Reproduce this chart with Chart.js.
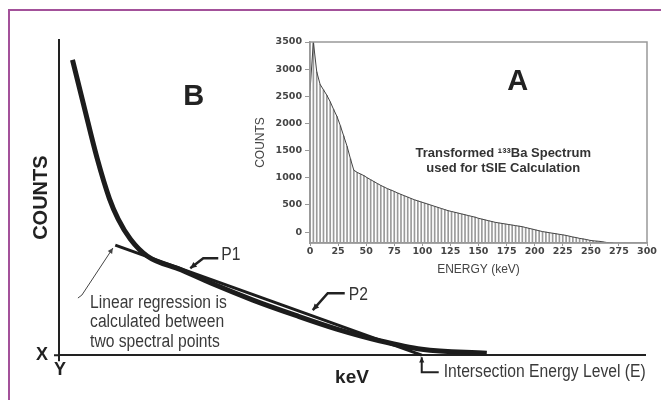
<!DOCTYPE html>
<html>
<head>
<meta charset="utf-8">
<script src="https://cdn.jsdelivr.net/npm/chart.js@4.4.1/dist/chart.umd.min.js"></script>
<style>
body { margin: 0; background: #fff; }
#wrap { position: relative; width: 661px; height: 400px; overflow: hidden; background: #fff; }
#frame { position: absolute; left: 8px; top: 9px; width: 700px; height: 500px;
	border-top: 2px solid #a3519a; border-left: 2px solid #a3519a; }
canvas { position: absolute; left: 0; top: 0; }
</style>
</head>
<body>
<div id="wrap">
	<div id="frame"></div>
	<canvas id="sketch" width="661" height="400"></canvas>
	<canvas id="inset" width="661" height="400"></canvas>
</div>
<script>
// panel B: schematic spectrum (arbitrary units, 0-100 on both axes)
let curveKeV = [2.3, 4.3, 6.5, 8.6, 10.1, 12.2, 15.1, 20.8, 25.9, 33.1, 40.3, 47.4, 54.7, 61.9, 73.0];
let curveCounts = [93.7, 78.7, 62.5, 49.7, 43.2, 36.8, 31.4, 27.1, 22.9, 17.5, 12.7, 8.3, 4.6, 1.9, 0.6];
let regressionKeV = [9.6, 61.9];
let regressionCounts = [34.9, 0];

// panel A: transformed 133Ba spectrum
let energyKeV = [
	0, 3, 6, 9, 12, 15, 18, 21, 24, 27, 30, 33, 36, 39, 42, 45, 48, 51, 54, 57,
	60, 63, 66, 69, 72, 75, 78, 81, 84, 87, 90, 93, 96, 99, 102, 105, 108, 111, 114, 117,
	120, 123, 126, 129, 132, 135, 138, 141, 144, 147, 150, 153, 156, 159, 162, 165, 168, 171, 174, 177,
	180, 183, 186, 189, 192, 195, 198, 201, 204, 207, 210, 213, 216, 219, 222, 225, 228, 231, 234, 237,
	240, 243, 246, 249, 252, 255, 258, 261, 264, 267, 270
];
let spectrumCounts = [
	2600, 3500, 2950, 2720, 2620, 2520, 2400, 2260, 2130, 1960, 1770, 1580, 1350, 1140, 1100, 1070, 1040, 1000, 965, 930,
	895, 860, 830, 800, 775, 750, 720, 695, 670, 645, 620, 595, 575, 555, 535, 515, 495, 475, 455, 435,
	415, 395, 380, 365, 350, 335, 320, 305, 290, 275, 255, 240, 225, 210, 195, 180, 170, 160, 150, 140,
	130, 120, 110, 100, 85, 70, 55, 40, 25, 10, 0, -10, -20, -30, -40, -50, -60, -75, -90, -100,
	-115, -125, -135, -150, -160, -165, -170, -180, -190, -195, -200
];
let countTicks = [0, 500, 1000, 1500, 2000, 2500, 3000, 3500];

Chart.defaults.font.family = "'Liberation Sans', Arial, sans-serif";
Chart.defaults.animation = false;
Chart.defaults.plugins.legend.display = false;
Chart.defaults.plugins.tooltip.enabled = false;

function arrow(ctx, pts, head) {
	ctx.beginPath();
	ctx.moveTo(pts[0][0], pts[0][1]);
	for (let i = 1; i < pts.length; i++) {
		ctx.lineTo(pts[i][0], pts[i][1]);
	}
	ctx.stroke();
	let a = Math.atan2(pts[0][1] - pts[1][1], pts[0][0] - pts[1][0]);
	ctx.beginPath();
	ctx.moveTo(pts[0][0], pts[0][1]);
	ctx.lineTo(pts[0][0] - head * Math.cos(a - 0.45), pts[0][1] - head * Math.sin(a - 0.45));
	ctx.lineTo(pts[0][0] - head * Math.cos(a + 0.45), pts[0][1] - head * Math.sin(a + 0.45));
	ctx.closePath();
	ctx.fill();
}

function rel(x0, y0, offs) {
	return offs.map(o => [x0 + o[0], y0 + o[1]]);
}

// the labels in the figure use a condensed face; squeeze a normal one
function narrowText(ctx, text, x, y) {
	ctx.save();
	ctx.translate(x, y);
	ctx.scale(0.87, 1);
	ctx.fillText(text, 0, 0);
	ctx.restore();
}

const sketchNotes = {
	id: 'sketchNotes',
	afterDraw(chart) {
		let {ctx, scales: {x, y}} = chart;
		let ox = x.getPixelForValue(0), oy = y.getPixelForValue(0);
		ctx.save();
		ctx.strokeStyle = '#222';
		ctx.fillStyle = '#222';

		// axis cross at the origin
		ctx.lineWidth = 2;
		ctx.beginPath();
		ctx.moveTo(ox, oy); ctx.lineTo(ox, oy + 6);
		ctx.moveTo(ox - 5, oy); ctx.lineTo(ox, oy);
		ctx.stroke();
		ctx.font = 'bold 18px "Liberation Sans", Arial';
		ctx.textAlign = 'center';
		ctx.textBaseline = 'middle';
		ctx.fillText('X', ox - 17, oy);
		ctx.fillText('Y', ox + 1, oy + 15);

		ctx.font = 'bold 29px "Liberation Sans", Arial';
		ctx.fillText('B', x.getPixelForValue(23), y.getPixelForValue(82));

		// P1 and P2 pointers
		ctx.lineWidth = 2.5;
		let p1x = x.getPixelForValue(22.4), p1y = y.getPixelForValue(27.6);
		arrow(ctx, rel(p1x, p1y, [[0, 0], [13, -10], [28, -10]]), 7);
		let p2x = x.getPixelForValue(43.3), p2y = y.getPixelForValue(14.3);
		arrow(ctx, rel(p2x, p2y, [[0, 0], [15, -17], [32, -17]]), 7);

		ctx.fillStyle = '#333';
		ctx.font = '18px "Liberation Sans", Arial';
		ctx.textAlign = 'left';
		narrowText(ctx, 'P1', p1x + 31, p1y - 13);
		narrowText(ctx, 'P2', p2x + 36, p2y - 15);

		// regression note
		ctx.strokeStyle = '#444';
		ctx.fillStyle = '#444';
		ctx.lineWidth = 1;
		let rx = x.getPixelForValue(9.2), ry = y.getPixelForValue(34.0);
		arrow(ctx, rel(rx, ry, [[0, 0], [-31, 47], [-35, 50]]), 6);
		ctx.fillStyle = '#3a3a3a';
		let tx = x.getPixelForValue(5.3);
		narrowText(ctx, 'Linear regression is', tx, ry + 55);
		narrowText(ctx, 'calculated between', tx, ry + 74);
		narrowText(ctx, 'two spectral points', tx, ry + 94);

		// intersection note
		ctx.strokeStyle = '#222';
		ctx.fillStyle = '#222';
		ctx.lineWidth = 2;
		let ix = x.getPixelForValue(regressionKeV[1]);
		arrow(ctx, rel(ix, oy + 2, [[0, 0], [0, 15], [17, 15]]), 6);
		ctx.fillStyle = '#3a3a3a';
		narrowText(ctx, 'Intersection Energy Level (E)', ix + 22, oy + 17);
		ctx.restore();
	}
};

new Chart(document.getElementById('sketch'), {
	type: 'line',
	data: {
		datasets: [
			{
				data: curveKeV.map((v, i) => ({x: v, y: curveCounts[i]})),
				borderColor: '#1c1c1c',
				borderWidth: 5,
				pointRadius: 0,
				cubicInterpolationMode: 'monotone',
				borderCapStyle: 'butt',
				clip: false
			},
			{
				data: regressionKeV.map((v, i) => ({x: v, y: regressionCounts[i]})),
				borderColor: '#1c1c1c',
				borderWidth: 3,
				pointRadius: 0,
				clip: false
			}
		]
	},
	options: {
		responsive: false,
		layout: {padding: {left: 25, right: 16, top: 40, bottom: 10}},
		scales: {
			x: {
				type: 'linear', min: 0, max: 100,
				ticks: {display: false},
				grid: {display: false, drawTicks: false, tickLength: 0},
				border: {color: '#222', width: 2},
				title: {display: true, text: 'keV', color: '#222',
					font: {size: 19, weight: 'bold'}, padding: {top: 11, bottom: 1}}
			},
			y: {
				min: 0, max: 100,
				ticks: {display: false},
				grid: {display: false, drawTicks: false, tickLength: 0},
				border: {color: '#222', width: 2},
				title: {display: true, text: 'COUNTS', color: '#222',
					font: {size: 20, weight: 'bold'}, padding: {top: 4, bottom: 6}}
			}
		}
	},
	plugins: [sketchNotes]
});

const insetNotes = {
	id: 'insetNotes',
	afterDraw(chart) {
		let {ctx, chartArea: a, scales: {x, y}} = chart;
		ctx.save();
		ctx.strokeStyle = '#999';
		ctx.lineWidth = 1.5;
		ctx.strokeRect(a.left, a.top, a.right - a.left, a.bottom - a.top);
		ctx.fillStyle = '#222';
		ctx.textAlign = 'center';
		ctx.textBaseline = 'middle';
		ctx.font = 'bold 29px "Liberation Sans", Arial';
		ctx.fillText('A', x.getPixelForValue(185), y.getPixelForValue(2770));
		ctx.font = 'bold 13px "Liberation Sans", Arial';
		ctx.fillStyle = '#333';
		ctx.fillText('Transformed \u00b9\u00b3\u00b3Ba Spectrum', x.getPixelForValue(172), y.getPixelForValue(1440));
		ctx.fillText('used for tSIE Calculation', x.getPixelForValue(172), y.getPixelForValue(1180));
		ctx.restore();
	}
};

let tickFont = {family: "'DejaVu Sans', sans-serif", size: 9.5, weight: 'bold'};

new Chart(document.getElementById('inset'), {
	type: 'bar',
	data: {
		datasets: [
			{
				type: 'line',
				data: energyKeV.map((v, i) => ({x: v, y: spectrumCounts[i]})),
				borderColor: '#444',
				borderWidth: 1,
				pointRadius: 0,
				order: 0
			},
			{
				type: 'bar',
				data: energyKeV.map((v, i) => ({x: v, y: spectrumCounts[i]})),
				backgroundColor: '#9a9a9a',
				barThickness: 1,
				base: -200,
				order: 1
			}
		]
	},
	options: {
		responsive: false,
		layout: {padding: {left: 249, right: 14, top: 42, bottom: 117}},
		scales: {
			x: {
				type: 'linear', min: 0, max: 300, offset: false,
				ticks: {stepSize: 25, font: tickFont, color: '#444', padding: 0, maxRotation: 0,
					callback: v => String(v)},
				grid: {drawOnChartArea: false, tickLength: 3, color: '#999', offset: false},
				border: {color: '#999', width: 1.5},
				title: {display: true, text: 'ENERGY (keV)', color: '#444',
					font: {size: 12}, padding: {top: 0, bottom: 6}},
				afterFit: s => { s.height = 40; }
			},
			y: {
				min: -200, max: 3500,
				afterBuildTicks: s => { s.ticks = countTicks.map(v => ({value: v})); },
				ticks: {font: tickFont, color: '#444', padding: 3, callback: v => String(v)},
				grid: {drawOnChartArea: false, tickLength: 5, color: '#999'},
				border: {color: '#999', width: 1.5},
				title: {display: true, text: 'COUNTS', color: '#444',
					font: {size: 12}, padding: {top: 4, bottom: 0}},
				afterFit: s => { s.width = 61; }
			}
		}
	},
	plugins: [insetNotes]
});
</script>
</body>
</html>
